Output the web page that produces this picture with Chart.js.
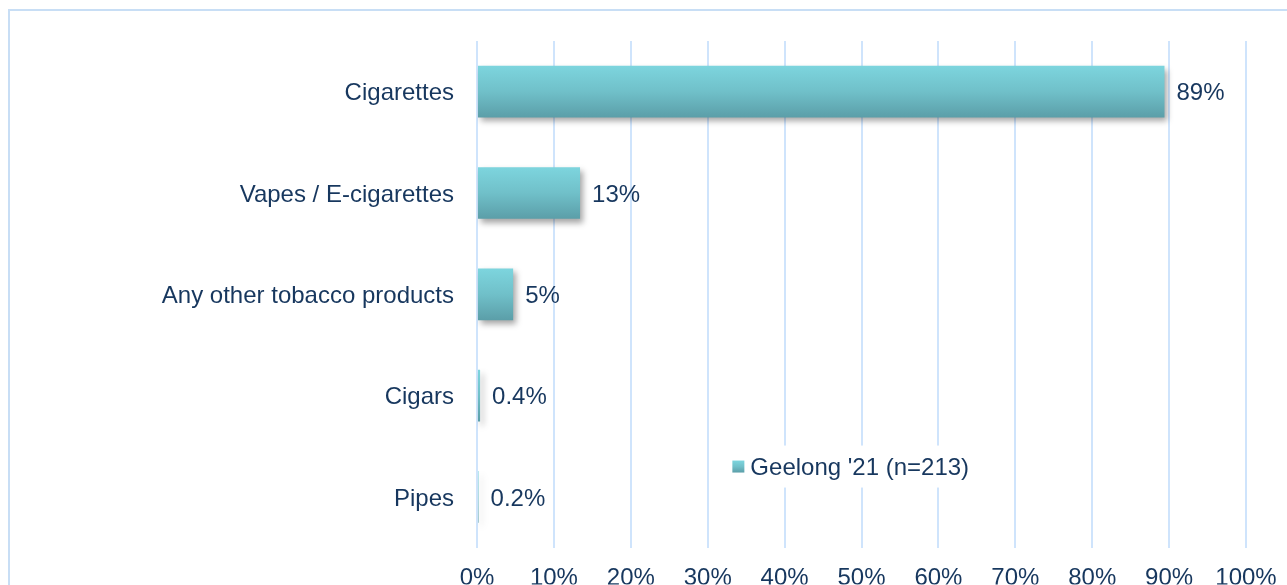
<!DOCTYPE html>
<html>
<head>
<meta charset="utf-8">
<script src="https://cdn.jsdelivr.net/npm/chart.js@4"></script>
<style>
  body { margin: 0; background: #fff; overflow: hidden; }
  #frame { position: absolute; left: 8px; top: 9px; width: 1400px; height: 700px; border: 2px solid #c8def5; }
  #main-chart { position: absolute; left: 0; top: 0; }
</style>
</head>
<body>
<div id="frame"></div>
<canvas id="main-chart" width="1287" height="585"></canvas>
<script>
const categories = ['Cigarettes', 'Vapes / E-cigarettes', 'Any other tobacco products', 'Cigars', 'Pipes'];
const geelong_values = [89.4, 13.4, 4.7, 0.4, 0.2];
const value_labels = ['89%', '13%', '5%', '0.4%', '0.2%'];
const series_name = "Geelong '21 (n=213)";
const x_ticks = [0, 10, 20, 30, 40, 50, 60, 70, 80, 90, 100];

const TEXT = '#17375e';
const FONT = { family: '"Liberation Sans", Arial, sans-serif', size: 24 };

function barGradient(ctx, top, bottom) {
    const g = ctx.createLinearGradient(0, top, 0, bottom);
    g.addColorStop(0, '#7dd5de');
    g.addColorStop(0.5, '#70c0c9');
    g.addColorStop(1, '#5b9ea8');
    return g;
}

const bar_shadow = {
    id: 'bar_shadow',
    beforeDatasetDraw(chart) {
        const ctx = chart.ctx;
        ctx.save();
        ctx.shadowColor = 'rgba(0,0,0,0.35)';
        ctx.shadowBlur = 6;
        ctx.shadowOffsetX = 3;
        ctx.shadowOffsetY = 4;
    },
    afterDatasetDraw(chart) {
        chart.ctx.restore();
    },
};

const value_text = {
    id: 'value_text',
    afterDatasetsDraw(chart) {
        const ctx = chart.ctx;
        ctx.save();
        ctx.font = FONT.size + 'px ' + FONT.family;
        ctx.fillStyle = TEXT;
        ctx.textBaseline = 'middle';
        ctx.textAlign = 'left';
        chart.getDatasetMeta(0).data.forEach((bar, i) => {
            ctx.fillText(value_labels[i], bar.x + 12, bar.y + 2);
        });
        ctx.restore();
    },
};

// legend sits inside the plot, over the gridlines
const inner_legend = {
    id: 'inner_legend',
    afterDatasetsDraw(chart) {
        const ctx = chart.ctx;
        const area = chart.chartArea;
        ctx.save();
        ctx.font = FONT.size + 'px ' + FONT.family;
        const tw = ctx.measureText(series_name).width;
        const cx = area.left + (area.right - area.left) * 0.486;
        const cy = area.top + (area.bottom - area.top) * 0.84;
        const content = 12 + 6 + tw;
        const start = cx - content / 2;
        ctx.fillStyle = '#fff';
        ctx.fillRect(start - 10, cy - 21, content + 20, 42);
        ctx.fillStyle = barGradient(ctx, cy - 6, cy + 6);
        ctx.fillRect(start, cy - 6, 12, 12);
        ctx.fillStyle = TEXT;
        ctx.textBaseline = 'middle';
        ctx.fillText(series_name, start + 18, cy + 2);
        ctx.restore();
    },
};

new Chart(document.getElementById('main-chart'), {
    type: 'bar',
    data: {
        labels: categories,
        datasets: [{
            label: series_name,
            data: geelong_values,
            backgroundColor: (c) => {
                const chart = c.chart;
                if (!chart.chartArea || c.type !== 'data') return '#70c0c9';
                const y = chart.scales.y.getPixelForValue(c.dataIndex);
                return barGradient(chart.ctx, y - 26, y + 26);
            },
            borderWidth: 0,
            categoryPercentage: 1,
            barPercentage: 0.51,
        }],
    },
    options: {
        indexAxis: 'y',
        responsive: false,
        animation: false,
        layout: { padding: { top: 41, right: 41, left: 0, bottom: 0 } },
        plugins: {
            legend: { display: false },
            tooltip: { enabled: false },
        },
        scales: {
            x: {
                min: 0,
                max: 100,
                afterBuildTicks: (axis) => { axis.ticks = x_ticks.map(v => ({ value: v })); },
                afterFit: (axis) => {
                    axis.height = 37;
                    axis.paddingLeft = 0;
                    axis.paddingRight = 0;
                },
                border: { display: false },
                grid: { color: '#cfe4fc', lineWidth: 2, drawTicks: false },
                ticks: {
                    color: TEXT,
                    font: FONT,
                    padding: 16,
                    maxRotation: 0,
                    callback: (v) => v + '%',
                },
            },
            y: {
                afterFit: (axis) => { axis.width = 477; },
                border: { display: false },
                grid: { display: false, drawTicks: false },
                ticks: { color: TEXT, font: FONT, padding: 23, labelOffset: 2 },
            },
        },
    },
    plugins: [bar_shadow, value_text, inner_legend],
});
</script>
</body>
</html>
